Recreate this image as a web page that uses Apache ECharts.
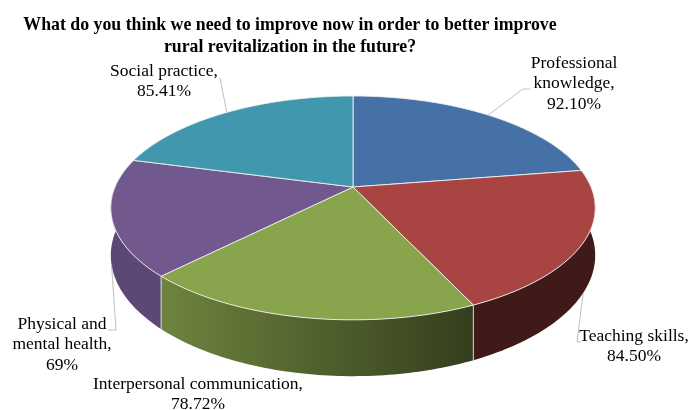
<!DOCTYPE html>
<html>
<head>
<meta charset="utf-8">
<script src="https://cdn.jsdelivr.net/npm/echarts@6/dist/echarts.min.js"></script>
<style>
  html, body { margin: 0; padding: 0; background: #ffffff; }
  #chart { width: 692px; height: 410px; }
</style>
</head>
<body>
<div id="chart"></div>
<script>
// Survey answers: share of respondents naming each area
const categories = ['Professional knowledge', 'Teaching skills', 'Interpersonal communication', 'Physical and mental health', 'Social practice'];
const values = [92.10, 84.50, 78.72, 69, 85.41];
const decimals = [2, 2, 2, 0, 2];
// How each category name is broken over lines in its label
const nameLines = [
  ['Professional', 'knowledge,'],
  ['Teaching skills,'],
  ['Interpersonal communication,'],
  ['Physical and', 'mental health,'],
  ['Social practice,']
];
const colors = ['#4571a6', '#a84543', '#88a44d', '#71588f', '#4197ae'];

// Label placement: centre x, top y, leader anchor on the pie, extra leader points
const labelLayout = [
  { x: 574, y: 53, anchor: 'top', leader: [[523, 89], [530, 89]] },
  { x: 634, y: 326, anchor: 'bottom', leader: [[577, 342], [581, 342]] },
  { x: 198, y: 374, anchor: null, leader: null },
  { x: 62, y: 314, anchor: 'bottom', leader: [[116, 330], [108, 330]] },
  { x: 164, y: 61, anchor: 'top', leader: [[220, 78]] }
];

// Perspective camera for the tilted pie (unit radius disc); walls drop straight down
const CAM = { cx: 353, cy: 187, f: 1135, d: 4.77, sin: 0.454, cos: 0.891, depth: 0.216 };
const FONT = "'Liberation Serif', 'Times New Roman', serif";

const total = values.reduce((a, b) => a + b, 0);
const startAngles = [];
(function () {
  let acc = 0;
  values.forEach(v => { startAngles.push(acc / total * 360); acc += v; });
})();

// theta: degrees clockwise from the far side of the pie; h: 0 on top, negative below
function project(theta, h) {
  const t = theta * Math.PI / 180;
  const x = Math.sin(t), z = Math.cos(t);
  const w = CAM.d + z * CAM.cos;
  return [CAM.cx + CAM.f * x / w, CAM.cy - CAM.f * (h * CAM.cos + z * CAM.sin) / w];
}

function shade(hex, k) {
  const n = parseInt(hex.slice(1), 16);
  const r = Math.round(((n >> 16) & 255) * k);
  const g = Math.round(((n >> 8) & 255) * k);
  const b = Math.round((n & 255) * k);
  return 'rgb(' + r + ',' + g + ',' + b + ')';
}

// Side walls: lit from the left, darkening towards the right
const LIGHT_FROM = 228, LIGHT_TO = 155, K_LIGHT = 0.82, K_DARK = 0.38;
function wallFill(hex) {
  const xa = project(LIGHT_FROM, 0)[0];
  const xb = project(LIGHT_TO, 0)[0];
  return {
    type: 'linear', global: true, x: xa, y: 0, x2: xb, y2: 0,
    colorStops: [
      { offset: 0, color: shade(hex, K_LIGHT) },
      { offset: 1, color: shade(hex, K_DARK) }
    ]
  };
}

function renderSlice(params, api) {
  const i = params.dataIndex;
  const v = api.value(1);
  const a0 = startAngles[i];
  const a1 = a0 + v / total * 360;
  const H = CAM.depth;
  const children = [];

  // outer wall, visible part only
  const w0 = Math.max(a0, 60), w1 = Math.min(a1, 300);
  if (w1 > w0) {
    const steps = Math.max(2, Math.ceil(w1 - w0));
    const topArc = [], bottomArc = [];
    for (let s = 0; s <= steps; s++) {
      const t = w0 + (w1 - w0) * s / steps;
      topArc.push(project(t, 0));
      bottomArc.push(project(t, -H));
    }
    children.push({
      type: 'polygon', z2: 1,
      shape: { points: topArc.concat(bottomArc.reverse()) },
      style: { fill: wallFill(colors[i]) }
    });
    if (a0 >= 90 && a0 <= 270) {
      const p = project(a0, 0), q = project(a0, -H);
      children.push({
        type: 'line', z2: 2,
        shape: { x1: p[0], y1: p[1], x2: q[0], y2: q[1] },
        style: { stroke: 'rgba(235,235,235,0.85)', lineWidth: 1 }
      });
    }
  }

  // top face
  const pts = [[CAM.cx, CAM.cy]];
  const n = Math.max(2, Math.ceil(a1 - a0));
  for (let s = 0; s <= n; s++) pts.push(project(a0 + (a1 - a0) * s / n, 0));
  children.push({
    type: 'polygon', z2: 5,
    shape: { points: pts },
    style: { fill: colors[i], stroke: 'rgba(240,240,240,0.9)', lineWidth: 1, lineJoin: 'round' }
  });

  // label and leader line
  const lay = labelLayout[i];
  const valueText = v.toFixed(decimals[i]) + '%';
  const text = nameLines[i].concat([valueText]).join('\n');
  children.push({
    type: 'text', z2: 8,
    style: {
      text: text, x: lay.x, y: lay.y, fill: '#000000',
      font: '17.5px ' + FONT, fontSize: 17.5, fontFamily: FONT,
      lineHeight: 20.5,
      align: 'center', textAlign: 'center', verticalAlign: 'top', textVerticalAlign: 'top'
    }
  });
  if (lay.anchor) {
    const mid = (a0 + a1) / 2;
    const p = project(mid, lay.anchor === 'top' ? 0 : -H);
    children.push({
      type: 'polyline', z2: 7,
      shape: { points: [p].concat(lay.leader) },
      style: { fill: null, stroke: '#c0c0c0', lineWidth: 1 }
    });
  }
  return { type: 'group', children: children };
}

const chart = echarts.init(document.getElementById('chart'), null, { renderer: 'canvas' });
chart.setOption({
  backgroundColor: '#ffffff',
  animation: false,
  title: {
    text: 'What do you think we need to improve now in order to better improve\nrural revitalization in the future?',
    left: 285, top: 9, textAlign: 'center',
    textStyle: { fontFamily: FONT, fontWeight: 'bold', fontSize: 17.8, lineHeight: 22, color: '#000000' }
  },
  series: [{
    type: 'custom',
    coordinateSystem: 'none',
    renderItem: renderSlice,
    data: values.map((v, i) => ({ name: categories[i], value: [i, v] }))
  }]
});
</script>
</body>
</html>
